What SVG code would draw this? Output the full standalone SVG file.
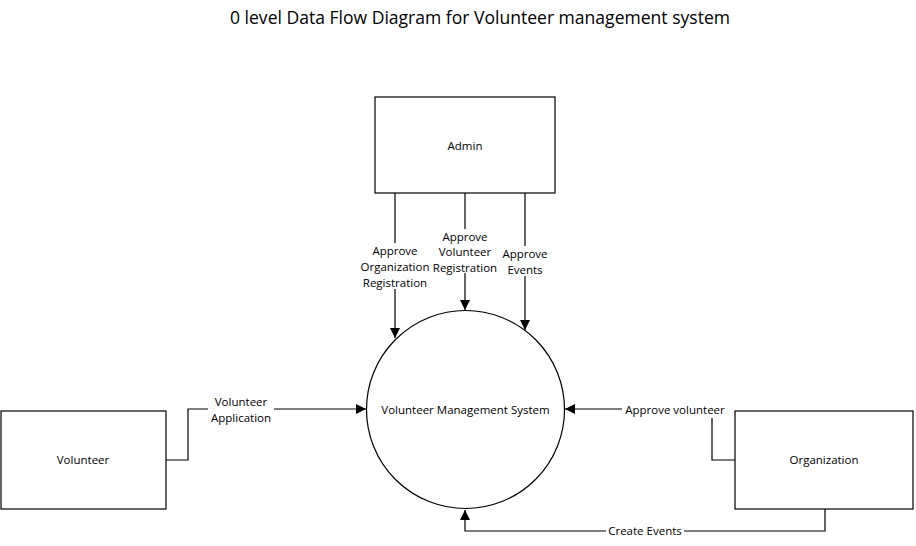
<svg xmlns="http://www.w3.org/2000/svg" width="916" height="546" viewBox="0 0 916 546">
<style>
.box{fill:#fff;stroke:#000;stroke-width:1.2}
.ln{fill:none;stroke:#000;stroke-width:1.2}
text{font-family:"Open Sans","Liberation Sans",sans-serif;fill:#000}
.lbl{font-size:11.5px;text-anchor:middle}
.bg{fill:#fff}
</style>
<defs>
<marker id="arr" viewBox="0 0 10 10" refX="10" refY="5" markerWidth="10" markerHeight="10" markerUnits="userSpaceOnUse" orient="auto">
<path d="M0,0 L10,5 L0,10 z" fill="#000"/>
</marker>
</defs>
<rect width="916" height="546" fill="#fff"/>
<text x="480" y="24" font-size="18" text-anchor="middle" textLength="500" lengthAdjust="spacingAndGlyphs">0 level Data Flow Diagram for Volunteer management system</text>
<g id="connectors">
<path class="ln" d="M395,193 V338" marker-end="url(#arr)"/>
<path class="ln" d="M465,193 V310" marker-end="url(#arr)"/>
<path class="ln" d="M525,193 V330" marker-end="url(#arr)"/>
<path class="ln" d="M166,460 H188 V409 H366" marker-end="url(#arr)"/>
<path class="ln" d="M735,460 H712 V409 H565" marker-end="url(#arr)"/>
<path class="ln" d="M825,509 V531 H465 V510" marker-end="url(#arr)"/>
<rect class="bg" x="358" y="243" width="74" height="46"/>
<rect class="bg" x="431" y="229" width="68" height="44"/>
<rect class="bg" x="499" y="246" width="52" height="30"/>
<rect class="bg" x="208" y="396" width="66" height="30"/>
<rect class="bg" x="622" y="402" width="106" height="16"/>
<rect class="bg" x="606" y="524" width="78" height="14"/>
<text class="lbl" x="395" y="255">Approve</text>
<text class="lbl" x="395" y="271">Organization</text>
<text class="lbl" x="395" y="287">Registration</text>
<text class="lbl" x="465" y="241">Approve</text>
<text class="lbl" x="465" y="256">Volunteer</text>
<text class="lbl" x="465" y="272">Registration</text>
<text class="lbl" x="525" y="258">Approve</text>
<text class="lbl" x="525" y="274">Events</text>
<text class="lbl" x="241" y="406">Volunteer</text>
<text class="lbl" x="241" y="422">Application</text>
<text class="lbl" x="675" y="414">Approve volunteer</text>
<text class="lbl" x="645" y="535">Create Events</text>
</g>
<g id="admin">
<rect class="box" x="375" y="97" width="180" height="96"/>
<text class="lbl" x="465" y="150">Admin</text>
</g>
<g id="system">
<circle class="box" cx="465.5" cy="409.5" r="99"/>
<text class="lbl" x="465.5" y="414">Volunteer Management System</text>
</g>
<g id="volunteer">
<rect class="box" x="1" y="411" width="165" height="98"/>
<text class="lbl" x="83" y="464">Volunteer</text>
</g>
<g id="organization">
<rect class="box" x="735" y="411" width="178" height="98"/>
<text class="lbl" x="824" y="464">Organization</text>
</g>
</svg>
